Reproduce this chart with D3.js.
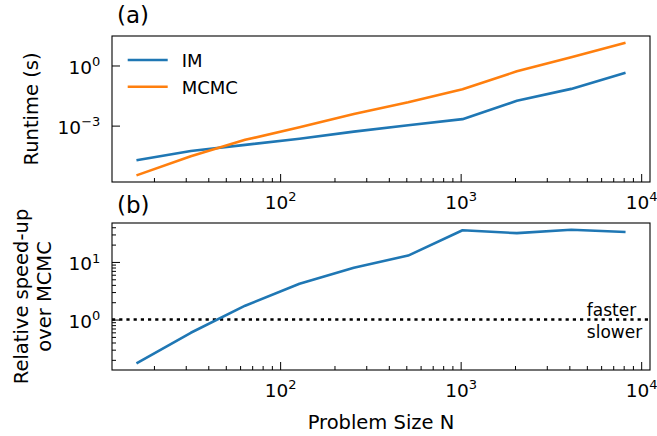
<!DOCTYPE html>
<html>
<head>
<meta charset="utf-8">
<script src="https://cdn.jsdelivr.net/npm/d3@7"></script>
<style>
  body { margin: 0; background: #fff; }
  svg text { font-family: "DejaVu Sans", sans-serif; fill: #000; }
</style>
</head>
<body>
<div id="chart"></div>
<script>
// values
var problemSize = [16, 32, 64, 128, 256, 512, 1024, 2048, 4096, 8192];
var runtimeIM   = [1.86e-5, 5.4e-5, 1.1e-4, 2.2e-4, 5.0e-4, 1.05e-3, 2.1e-3, 1.74e-2, 6.8e-2, 0.44];
var runtimeMCMC = [3.3e-6, 2.95e-5, 1.95e-4, 8.3e-4, 3.8e-3, 1.45e-2, 6.6e-2, 0.51, 2.57, 13.8];
var speedUp     = [0.174, 0.59, 1.74, 4.17, 7.94, 12.9, 35.5, 31.6, 36.3, 33.1];
var seriesNames = ["IM", "MCMC"];
var xTicks = [1e2, 1e3, 1e4];
var runtimeTicks = [1e-6, 1e-3, 1e0];
var speedTicks = [1e0, 1e1];

var width = 657, height = 436
  , left = 112, right = 650
  , panelA = {top: 36, bottom: 182}
  , panelB = {top: 223, bottom: 370}
  , colors = ["#1f77b4", "#ff7f0e"]
  , tickFont = 18.5, labelFont = 19.5;

// matplotlib style 5% margin, in log space
function logPad(vals) {
    var lo = Math.log10(d3.min(vals)), hi = Math.log10(d3.max(vals)), m = (hi - lo) * 0.05;
    return [Math.pow(10, lo - m), Math.pow(10, hi + m)];
}

function minorTicks(domain) {
    var out = [];
    for (var e = Math.floor(Math.log10(domain[0])); e <= Math.ceil(Math.log10(domain[1])); e++) {
        for (var k = 2; k <= 9; k++) {
            var v = k * Math.pow(10, e);
            if (v >= domain[0] && v <= domain[1]) out.push(v);
        }
    }
    return out;
}

function powLabel(text, v) {
    var e = Math.round(Math.log10(v));
    text.text(null);
    text.append("tspan").text("10");
    text.append("tspan").attr("dy", -7.7).style("font-size", "13px")
        .text(e < 0 ? "\u2212" + (-e) : String(e));
}

var svg = d3.select("#chart").append("svg").attr("width", width).attr("height", height);

var x = d3.scaleLog().domain(logPad(problemSize)).range([left, right]);
var yA = d3.scaleLog().domain(logPad(runtimeIM.concat(runtimeMCMC))).range([panelA.bottom, panelA.top]);
var yB = d3.scaleLog().domain(logPad(speedUp)).range([panelB.bottom, panelB.top]);

function drawAxes(y, yMajor, yMinor, p) {
    var g = svg.append("g");
    function clean(sel) { sel.select(".domain").remove(); sel.selectAll("line").attr("stroke", "#000"); }

    g.append("g").attr("transform", "translate(0," + p.bottom + ")")
        .call(d3.axisBottom(x).tickValues(minorTicks(x.domain())).tickSize(-4).tickFormat(""))
        .call(clean);
    var xa = g.append("g").attr("transform", "translate(0," + p.bottom + ")")
        .call(d3.axisBottom(x).tickValues(xTicks).tickSize(-8).tickFormat(""))
        .call(clean);
    xa.selectAll(".tick text")
        .attr("y", 26.7).attr("dy", null)
        .attr("text-anchor", "middle")
        .style("font-size", tickFont + "px")
        .each(function(d) { powLabel(d3.select(this), d); });

    var yd = y.domain();
    if (yMinor) {
        g.append("g").attr("transform", "translate(" + left + ",0)")
            .call(d3.axisLeft(y).tickValues(minorTicks(yd)).tickSize(-4).tickFormat(""))
            .call(clean);
    }
    var ya = g.append("g").attr("transform", "translate(" + left + ",0)")
        .call(d3.axisLeft(y).tickValues(yMajor.filter(function(v) { return v >= yd[0] && v <= yd[1]; }))
            .tickSize(-8).tickFormat(""))
        .call(clean);
    ya.selectAll(".tick text")
        .attr("x", -11.7).attr("y", 8).attr("dy", null)
        .attr("text-anchor", "end")
        .style("font-size", tickFont + "px")
        .each(function(d) { powLabel(d3.select(this), d); });

    svg.append("rect")
        .attr("x", left).attr("y", p.top)
        .attr("width", right - left).attr("height", p.bottom - p.top)
        .attr("fill", "none").attr("stroke", "#000").attr("stroke-width", 1.1);
}

drawAxes(yA, runtimeTicks, false, panelA);
drawAxes(yB, speedTicks, true, panelB);

// (a) runtimes
var runtimes = [runtimeIM, runtimeMCMC];
runtimes.forEach(function(vals, i) {
    svg.append("path")
        .datum(problemSize.map(function(n, j) { return [n, vals[j]]; }))
        .attr("fill", "none")
        .attr("stroke", colors[i])
        .attr("stroke-width", 2.6)
        .attr("stroke-linejoin", "round")
        .attr("d", d3.line().x(function(d) { return x(d[0]); }).y(function(d) { return yA(d[1]); }));
});

// legend, no frame
var legend = svg.append("g");
seriesNames.forEach(function(name, i) {
    var ly = 60 + i * 26.7;
    legend.append("line")
        .attr("x1", 127.7).attr("x2", 167.7).attr("y1", ly).attr("y2", ly)
        .attr("stroke", colors[i]).attr("stroke-width", 2.6);
    legend.append("text")
        .attr("x", 181.7).attr("y", ly + 6.8)
        .style("font-size", "18px")
        .text(name);
});

// (b) speed-up
svg.append("line")
    .attr("x1", left).attr("x2", right)
    .attr("y1", yB(1)).attr("y2", yB(1))
    .attr("stroke", "#000").attr("stroke-width", 2.5)
    .attr("stroke-dasharray", "3.2,4");

svg.append("path")
    .datum(problemSize.map(function(n, j) { return [n, speedUp[j]]; }))
    .attr("fill", "none")
    .attr("stroke", colors[0])
    .attr("stroke-width", 2.6)
    .attr("stroke-linejoin", "round")
    .attr("d", d3.line().x(function(d) { return x(d[0]); }).y(function(d) { return yB(d[1]); }));

svg.append("text").attr("x", x(5000)).attr("y", yB(1) - 4)
    .style("font-size", "17px").text("faster");
svg.append("text").attr("x", x(5000)).attr("y", yB(1) + 18)
    .style("font-size", "17px").text("slower");

// panel tags and axis labels
svg.append("text").attr("x", 117).attr("y", 23).style("font-size", "23px").text("(a)");
svg.append("text").attr("x", 117).attr("y", 213).style("font-size", "23px").text("(b)");

svg.append("text")
    .attr("transform", "translate(37.5," + (panelA.top + panelA.bottom) / 2 + ") rotate(-90)")
    .attr("text-anchor", "middle")
    .style("font-size", labelFont + "px")
    .text("Runtime (s)");

var midB = (panelB.top + panelB.bottom) / 2;
svg.append("text")
    .attr("transform", "translate(27.5," + midB + ") rotate(-90)")
    .attr("text-anchor", "middle")
    .style("font-size", labelFont + "px")
    .text("Relative speed-up");
svg.append("text")
    .attr("transform", "translate(51," + midB + ") rotate(-90)")
    .attr("text-anchor", "middle")
    .style("font-size", labelFont + "px")
    .text("over MCMC");

svg.append("text")
    .attr("x", (left + right) / 2).attr("y", 429)
    .attr("text-anchor", "middle")
    .style("font-size", labelFont + "px")
    .text("Problem Size N");
</script>
</body>
</html>
